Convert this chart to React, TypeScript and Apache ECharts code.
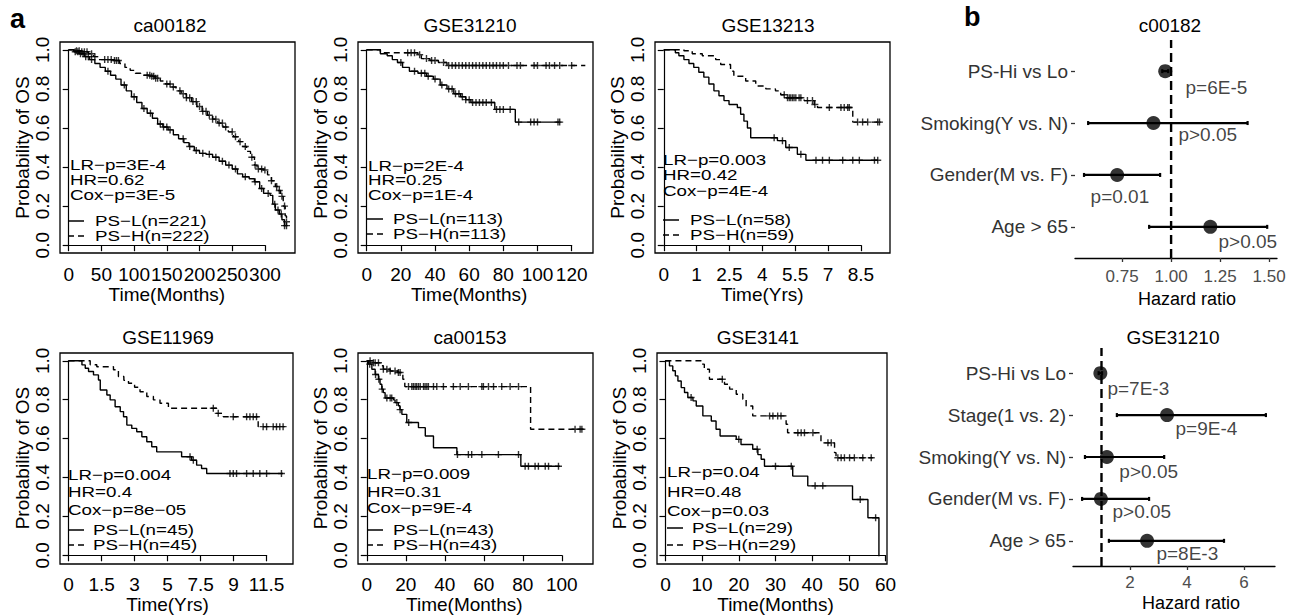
import React, { useEffect, useRef } from 'react';
import * as echarts from 'echarts';

// ================= DATA =================
// Kaplan-Meier curves: [time, survival] (step drops), censoring times
const ca00182_PSL = [[0,1],[8,0.99],[16,0.98],[24,0.965],[32,0.95],[40,0.93],[48,0.91],[56,0.89],[64,0.87],[72,0.85],[80,0.82],[88,0.79],[96,0.76],[104,0.73],[112,0.70],[120,0.675],[128,0.65],[136,0.62],[144,0.605],[152,0.59],[160,0.565],[168,0.545],[176,0.525],[184,0.505],[192,0.485],[200,0.47],[210,0.465],[220,0.45],[230,0.43],[240,0.41],[250,0.39],[258,0.365],[266,0.35],[276,0.34],[284,0.325],[292,0.29],[298,0.265],[308,0.255],[312,0.21],[316,0.18],[322,0.16],[326,0.13],[330,0.10],[333,0.10]];
const ca00182_PSH = [[0,1],[10,0.995],[20,0.99],[30,0.98],[38,0.965],[45,0.95],[70,0.945],[78,0.93],[86,0.91],[94,0.895],[102,0.88],[110,0.87],[125,0.865],[132,0.855],[140,0.84],[148,0.825],[156,0.81],[164,0.79],[172,0.775],[180,0.755],[188,0.735],[196,0.71],[204,0.685],[212,0.665],[220,0.645],[228,0.625],[236,0.605],[244,0.58],[252,0.555],[260,0.53],[266,0.505],[272,0.48],[278,0.45],[284,0.41],[288,0.39],[298,0.385],[304,0.36],[310,0.33],[316,0.30],[320,0.28],[324,0.25],[328,0.20],[331,0.15],[333,0.12],[334,0.12]];
const ca00182_PSL_cens = [10,14,18,22,26,30,35,60,85,100,115,125,140,145,150,155,175,185,195,205,215,225,235,245,255,270,285,295,305,315,320,325,330,333];
const ca00182_PSH_cens = [12,16,20,24,28,35,40,55,60,65,70,73,76,120,124,127,130,133,136,150,155,160,170,175,180,185,190,195,200,205,210,215,220,225,230,235,240,250,255,262,270,280,285,290,295,300,310,318,322,326,330,333];

const GSE31210_PSL = [[0,1],[8,0.98],[12,0.97],[15,0.95],[18,0.935],[21,0.91],[25,0.89],[30,0.88],[35,0.865],[39,0.85],[43,0.82],[47,0.80],[51,0.775],[55,0.76],[58,0.745],[61,0.73],[75,0.695],[87,0.63],[113,0.63]];
const GSE31210_PSH = [[0,1],[8,0.985],[30,0.975],[32,0.955],[37,0.945],[42,0.935],[47,0.92],[128,0.92]];
const GSE31210_PSL_cens = [20,28,32,34,36,40,44,48,50,52,54,56,58,60,62,64,66,68,70,73,76,78,80,84,89,96,98,100,112,113];
const GSE31210_PSH_cens = [24,26,28,31,35,38,40,45,48,50,52,54,56,58,60,62,64,66,68,70,72,74,76,78,80,83,88,90,98,100,105,107,110,113,120];

const GSE13213_PSL = [[0,1],[0.53,0.985],[0.69,0.97],[0.92,0.95],[1.15,0.93],[1.37,0.91],[1.6,0.885],[1.83,0.86],[2.06,0.825],[2.29,0.79],[2.52,0.765],[2.75,0.74],[2.98,0.72],[3.36,0.705],[3.51,0.67],[3.66,0.635],[3.82,0.60],[3.97,0.55],[5.19,0.535],[5.57,0.50],[6.1,0.465],[6.49,0.435],[9.77,0.435]];
const GSE13213_PSH = [[0,1],[0.92,0.995],[1.3,0.98],[1.76,0.97],[2.37,0.95],[2.6,0.925],[3.05,0.89],[3.2,0.865],[3.74,0.84],[4.2,0.815],[4.66,0.80],[5.1,0.79],[5.34,0.77],[5.57,0.755],[6.41,0.74],[6.87,0.72],[7.02,0.705],[8.63,0.63],[9.85,0.63]];
const GSE13213_PSL_cens = [5.04,5.42,5.73,6.26,6.95,7.25,7.56,8.17,8.63,8.93,9.62,9.77];
const GSE13213_PSH_cens = [5.5,5.65,5.73,5.8,5.88,5.95,6.03,6.18,6.26,6.56,6.79,6.9,7.56,8.09,8.24,8.4,8.47,8.85,9.08,9.31,9.77,9.85];

const GSE11969_PSL = [[0,1],[0.81,0.979],[1.01,0.962],[1.21,0.945],[1.51,0.928],[1.81,0.902],[1.92,0.851],[2.32,0.825],[2.52,0.80],[2.82,0.765],[3.13,0.74],[3.33,0.714],[3.53,0.671],[3.83,0.654],[4.13,0.637],[4.44,0.611],[4.74,0.586],[5.04,0.56],[5.34,0.534],[6.85,0.509],[7.46,0.491],[7.76,0.466],[8.06,0.449],[8.37,0.423],[13.0,0.423]];
const GSE11969_PSH = [[0,1],[1.31,0.98],[1.71,0.97],[2.72,0.954],[3.02,0.92],[3.35,0.9],[3.63,0.885],[4.0,0.865],[4.33,0.842],[4.74,0.817],[5.14,0.80],[5.54,0.783],[6.05,0.757],[8.97,0.731],[9.38,0.714],[11.49,0.663],[13.1,0.663]];
const GSE11969_PSL_cens = [7.36,7.56,9.78,9.98,10.18,10.79,11.19,11.59,12.0,12.9];
const GSE11969_PSH_cens = [8.77,9.07,9.98,10.79,10.99,11.19,11.39,11.79,12.0,12.4,12.6,12.8,13.0];

const ca00153_PSL = [[0,1],[0.85,0.983],[2.6,0.957],[4.3,0.93],[6.0,0.906],[6.8,0.88],[7.7,0.855],[8.5,0.837],[9.4,0.81],[13.7,0.80],[14.5,0.786],[16.2,0.77],[17.0,0.75],[18.0,0.726],[20.5,0.684],[26.5,0.658],[30.0,0.615],[34.2,0.555],[46.2,0.52],[79.0,0.46],[99,0.46]];
const ca00153_PSH = [[0,1],[3.4,0.99],[6.8,0.975],[8.5,0.957],[12,0.948],[16,0.94],[18.5,0.906],[19.5,0.868],[84,0.65],[111,0.65]];
const ca00153_PSL_cens = [1.5,4.5,6.2,7.9,10.3,12.0,12.8,15.4,17.1,21.5,46.5,52.1,53.8,59.0,67.5,77.8,81.2,82.9,86.3,88.0,91.5,93.2,98.3];
const ca00153_PSH_cens = [1.7,3.4,4.3,6.0,8.5,10.3,12.0,14.5,16.2,17.1,21.4,23.1,23.9,24.8,25.6,26.5,27.4,29.1,29.9,30.8,31.6,34.2,35.9,39.3,44.4,47.9,52.1,59.0,59.8,62.4,65.0,69.2,73.5,77.8,106.8,109.4,110.3];

const GSE3141_PSL = [[0,1],[1.1,0.974],[2.0,0.949],[2.7,0.923],[3.4,0.897],[4.3,0.863],[5.2,0.838],[6.1,0.812],[7.5,0.795],[8.4,0.769],[10.2,0.718],[12.5,0.692],[13.8,0.65],[14.9,0.615],[19.3,0.598],[20.6,0.572],[23.8,0.547],[25.2,0.52],[26.1,0.496],[27.0,0.46],[34.7,0.41],[38.8,0.36],[51.0,0.29],[55.2,0.197],[58.2,0.0]];
const GSE3141_PSH = [[0,1],[9.7,0.983],[10.6,0.957],[12,0.906],[16.1,0.88],[17.5,0.855],[19.3,0.829],[21.1,0.803],[22,0.769],[23.8,0.718],[32.9,0.675],[33.3,0.632],[42.4,0.58],[46.1,0.53],[46.5,0.504],[56.5,0.504]];
const GSE3141_PSL_cens = [7.0,20.0,25.0,30.0,34.3,40.8,42.9,53.1,57.3];
const GSE3141_PSH_cens = [15.5,28.4,29.3,30.6,31.5,36.1,37.0,37.9,40.2,44.3,45.2,47.0,47.9,48.8,50.2,51.5,53.8,56.1];

// tick labels
const ca00182_ticks = ['0','50','100','150','200','250','300'];
const GSE31210_ticks = ['0','20','40','60','80','100','120'];
const GSE13213_ticks = ['0','1','2.5','4','5.5','7','8.5'];
const GSE11969_ticks = ['0','1.5','3','5','7.5','9','11.5'];
const ca00153_ticks = ['0','20','40','60','80','100'];
const GSE3141_ticks = ['0','10','20','30','40','50','60'];
const yTicks = ['0.0','0.2','0.4','0.6','0.8','1.0'];

// statistics text
const ca00182_stats = ['LR−p=3E-4','HR=0.62','Cox−p=3E-5'];
const GSE31210_stats = ['LR−p=2E-4','HR=0.25','Cox−p=1E-4'];
const GSE13213_stats = ['LR−p=0.003','HR=0.42','Cox−p=4E-4'];
const GSE11969_stats = ['LR−p=0.004','HR=0.4','Cox−p=8e−05'];
const ca00153_stats = ['LR−p=0.009','HR=0.31','Cox−p=9E-4'];
const GSE3141_stats = ['LR−p=0.04','HR=0.48','Cox−p=0.03'];

const ca00182_legend = ['PS−L(n=221)','PS−H(n=222)'];
const GSE31210_legend = ['PS−L(n=113)','PS−H(n=113)'];
const GSE13213_legend = ['PS−L(n=58)','PS−H(n=59)'];
const GSE11969_legend = ['PS−L(n=45)','PS−H(n=45)'];
const ca00153_legend = ['PS−L(n=43)','PS−H(n=43)'];
const GSE3141_legend = ['PS−L(n=29)','PS−H(n=29)'];

// forest plots
const forestRef = 1;
const c00182_factors = ['PS-Hi vs Lo','Smoking(Y vs. N)','Gender(M vs. F)','Age > 65'];
const c00182_hr = [0.97, 0.91, 0.725, 1.20];
const c00182_lo = [0.955, 0.577, 0.556, 0.888];
const c00182_hi = [0.985, 1.39, 0.944, 1.49];
const c00182_p = ['p=6E-5','p>0.05','p=0.01','p>0.05'];

const GSE31210f_factors = ['PS-Hi vs Lo','Stage(1 vs. 2)','Smoking(Y vs. N)','Gender(M vs. F)','Age > 65'];
const GSE31210f_hr = [0.96, 3.3, 1.19, 0.98, 2.6];
const GSE31210f_lo = [0.9, 1.54, 0.42, 0.32, 1.26];
const GSE31210f_hi = [1.02, 6.77, 3.2, 2.67, 5.3];
const GSE31210f_p = ['p=7E-3','p=9E-4','p>0.05','p>0.05','p=8E-3'];
const forest1_ticks = ['0.75','1.00','1.25','1.50'];
const forest2_ticks = ['2','4','6'];

// ================= LAYOUT =================
const FONT = '"Liberation Sans", Arial, Helvetica, sans-serif';
const PLUS = 'path://M4,0H6V4H10V6H6V10H4V6H0V4H4Z';

const kmPanels = [
  { title: 'ca00182', xName: 'Time(Months)', ticks: ca00182_ticks, L: ca00182_PSL, H: ca00182_PSH, Lc: ca00182_PSL_cens, Hc: ca00182_PSH_cens, stats: ca00182_stats, legend: ca00182_legend },
  { title: 'GSE31210', xName: 'Time(Months)', ticks: GSE31210_ticks, L: GSE31210_PSL, H: GSE31210_PSH, Lc: GSE31210_PSL_cens, Hc: GSE31210_PSH_cens, stats: GSE31210_stats, legend: GSE31210_legend },
  { title: 'GSE13213', xName: 'Time(Yrs)', ticks: GSE13213_ticks, L: GSE13213_PSL, H: GSE13213_PSH, Lc: GSE13213_PSL_cens, Hc: GSE13213_PSH_cens, stats: GSE13213_stats, legend: GSE13213_legend },
  { title: 'GSE11969', xName: 'Time(Yrs)', ticks: GSE11969_ticks, L: GSE11969_PSL, H: GSE11969_PSH, Lc: GSE11969_PSL_cens, Hc: GSE11969_PSH_cens, stats: GSE11969_stats, legend: GSE11969_legend },
  { title: 'ca00153', xName: 'Time(Months)', ticks: ca00153_ticks, L: ca00153_PSL, H: ca00153_PSH, Lc: ca00153_PSL_cens, Hc: ca00153_PSH_cens, stats: ca00153_stats, legend: ca00153_legend },
  { title: 'GSE3141', xName: 'Time(Months)', ticks: GSE3141_ticks, L: GSE3141_PSL, H: GSE3141_PSH, Lc: GSE3141_PSL_cens, Hc: GSE3141_PSH_cens, stats: GSE3141_stats, legend: GSE3141_legend },
];

const kmLayout = [
  { left: 60, top: 42, width: 235, height: 211, xmin: -13.3, xmax: 346, interval: 50, titleX: 170, titleY: 25, sx: 70, sy: [165, 180, 195], lx: [68, 84], ltx: 95, ly: [221, 236] },
  { left: 358, top: 42, width: 235, height: 211, xmin: -5.1, xmax: 132.5, interval: 20, titleX: 470, titleY: 25, sx: 368, sy: [166, 180, 195], lx: [367, 383], ltx: 393, ly: [219, 234] },
  { left: 655, top: 42, width: 235, height: 211, xmin: -0.4, xmax: 10.33, interval: 1.5, titleX: 768, titleY: 25, sx: 663, sy: [160, 175, 191], lx: [663, 679], ltx: 690, ly: [220, 235] },
  { left: 60, top: 353, width: 233, height: 211, xmin: -0.52, xmax: 13.6, interval: 2, titleX: 168, titleY: 337, sx: 68, sy: [475, 492, 510], lx: [68, 84], ltx: 93, ly: [530, 545] },
  { left: 358, top: 353, width: 235, height: 211, xmin: -4.5, xmax: 116, interval: 20, titleX: 470, titleY: 337, sx: 367, sy: [474, 492, 508], lx: [367, 383], ltx: 393, ly: [530, 545] },
  { left: 657, top: 353, width: 230, height: 211, xmin: -2.3, xmax: 60.4, interval: 10, titleX: 758, titleY: 337, sx: 667, sy: [472, 492, 511], lx: [667, 683], ltx: 692, ly: [528, 545] },
];

const forests = [
  { title: 'c00182', factors: c00182_factors, hr: c00182_hr, lo: c00182_lo, hi: c00182_hi, p: c00182_p, ticks: forest1_ticks },
  { title: 'GSE31210', factors: GSE31210f_factors, hr: GSE31210f_hr, lo: GSE31210f_lo, hi: GSE31210f_hi, p: GSE31210f_p, ticks: forest2_ticks },
];
const forestLayout = [
  { left: 1075, top: 40, width: 202, height: 218, xmin: 0.51, xmax: 1.54, tickMin: 0.75, tickMax: 1.5, interval: 0.25,
    titleX: 1170, titleY: 25, hrX: 1187, hrY: 299, tickMargin: 10, labelX: [1.071, 1.035, 0.587, 1.239], labelDy: [16, 11, 22, 15] },
  { left: 1073, top: 348, width: 202, height: 218, xmin: 0.0, xmax: 7.09, tickMin: 2, tickMax: 6, interval: 2,
    titleX: 1173, titleY: 337, hrX: 1191, hrY: 603, tickMargin: 8, labelX: [1.19, 3.58, 1.61, 1.37, 2.91], labelDy: [15, 13, 14, 13, 13] },
];

function survAt(curve: number[][], t: number): number {
  let s = curve[0][1];
  for (const [ti, si] of curve) {
    if (ti <= t) s = si; else break;
  }
  return s;
}

function txt(x: number, y: number, text: string, size: number, align = 'left', extra: any = {}) {
  return {
    type: 'text', x, y, silent: true, scaleX: extra.scaleX || 1, scaleY: 1,
    style: {
      text, fill: extra.fill || '#000', fontSize: size, fontFamily: FONT, fontWeight: extra.weight || 'normal',
      textAlign: align, align, textVerticalAlign: 'middle', verticalAlign: 'middle',
    },
  };
}

function buildOption() {
  const grid: any[] = [], xAxis: any[] = [], yAxis: any[] = [], series: any[] = [], graphic: any[] = [];

  kmPanels.forEach((p, i) => {
    const L = kmLayout[i];
    const sx = L.width / (L.xmax - L.xmin);
    const sy = L.height / 1.08;
    const tickMax = L.interval * (p.ticks.length - 1);
    const gA = grid.length;
    grid.push({ left: L.left, top: L.top, width: L.width, height: L.height, show: true, borderColor: '#000', borderWidth: 1.3, backgroundColor: 'transparent' });
    xAxis.push({ gridIndex: gA, type: 'value', min: L.xmin, max: L.xmax, show: false });
    yAxis.push({ gridIndex: gA, type: 'value', min: -0.04, max: 1.04, show: false });

    const gB = grid.length;
    const bLeft = L.left + (0 - L.xmin) * sx;
    const bTop = L.top + 0.04 * sy;
    grid.push({ left: bLeft, top: bTop, width: tickMax * sx, height: sy });
    const ticks = p.ticks;
    const interval = L.interval;
    xAxis.push({
      gridIndex: gB, type: 'value', min: 0, max: tickMax, interval,
      offset: (L.top + L.height) - (bTop + sy),
      axisLine: { show: true, lineStyle: { color: '#000', width: 1.2 } },
      axisTick: { show: true, length: 6, lineStyle: { color: '#000', width: 1.2 } },
      axisLabel: { fontSize: 19, color: '#000', fontFamily: FONT, margin: 12, formatter: (v: number) => ticks[Math.round(v / interval)] ?? '' },
      splitLine: { show: false },
      name: p.xName, nameLocation: 'middle', nameGap: 30,
      nameTextStyle: { fontSize: 19, color: '#000', fontFamily: FONT },
    });
    yAxis.push({
      gridIndex: gB, type: 'value', min: 0, max: 1, interval: 0.2,
      offset: bLeft - L.left,
      axisLine: { show: true, lineStyle: { color: '#000', width: 1.2 } },
      axisTick: { show: true, length: 6, lineStyle: { color: '#000', width: 1.2 } },
      axisLabel: { fontSize: 19, color: '#000', fontFamily: FONT, rotate: 90, margin: 8, formatter: (v: number) => yTicks[Math.round(v / 0.2)] ?? '' },
      splitLine: { show: false },
      name: 'Probability of OS', nameLocation: 'middle', nameGap: 19,
      nameTextStyle: { fontSize: 19, color: '#000', fontFamily: FONT },
    });

    series.push({ type: 'line', xAxisIndex: gA, yAxisIndex: gA, data: p.L, step: 'end', symbol: 'none', silent: true, lineStyle: { color: '#000', width: 1.4 } });
    series.push({ type: 'line', xAxisIndex: gA, yAxisIndex: gA, data: p.H, step: 'end', symbol: 'none', silent: true, lineStyle: { color: '#000', width: 1.4, type: [6, 4] } });
    series.push({ type: 'scatter', xAxisIndex: gA, yAxisIndex: gA, data: p.Lc.map((t) => [t, survAt(p.L, t)]), symbol: PLUS, symbolSize: 7, silent: true, itemStyle: { color: '#000' } });
    series.push({ type: 'scatter', xAxisIndex: gA, yAxisIndex: gA, data: p.Hc.map((t) => [t, survAt(p.H, t)]), symbol: PLUS, symbolSize: 7, silent: true, itemStyle: { color: '#000' } });

    graphic.push(txt(L.titleX, L.titleY, p.title, 19, 'center'));
    p.stats.forEach((s, k) => graphic.push(txt(L.sx, L.sy[k], s, 15, 'left', { scaleX: 1.25 })));
    graphic.push({ type: 'line', silent: true, shape: { x1: L.lx[0], y1: L.ly[0], x2: L.lx[1], y2: L.ly[0] }, style: { stroke: '#000', lineWidth: 1.5 } });
    graphic.push({ type: 'line', silent: true, shape: { x1: L.lx[0], y1: L.ly[1], x2: L.lx[1], y2: L.ly[1] }, style: { stroke: '#000', lineWidth: 1.5, lineDash: [6, 4] } });
    graphic.push(txt(L.ltx, L.ly[0], p.legend[0], 15, 'left', { scaleX: 1.25 }));
    graphic.push(txt(L.ltx, L.ly[1], p.legend[1], 15, 'left', { scaleX: 1.25 }));
  });

  forests.forEach((f, k) => {
    const FL = forestLayout[k];
    const n = f.factors.length;
    const unit = FL.height / (n + 0.2);
    const sx = FL.width / (FL.xmax - FL.xmin);

    // panel grid (axis line + reference line)
    const gA = grid.length;
    grid.push({ left: FL.left, top: FL.top, width: FL.width, height: FL.height });
    xAxis.push({ gridIndex: gA, type: 'value', min: FL.xmin, max: FL.xmax,
      axisLine: { show: true, lineStyle: { color: '#000', width: 1.3 } }, axisTick: { show: false }, axisLabel: { show: false }, splitLine: { show: false } });
    yAxis.push({ gridIndex: gA, type: 'value', min: 0, max: 1, show: false });
    series.push({ type: 'line', xAxisIndex: gA, yAxisIndex: gA, data: [[forestRef, 0], [forestRef, 1]], symbol: 'none', silent: true, lineStyle: { color: '#000', width: 2.4, type: [9, 5] } });

    // category grid
    const gC = grid.length;
    grid.push({ left: FL.left, top: FL.top + 0.1 * unit, width: FL.width, height: n * unit });
    xAxis.push({ gridIndex: gC, type: 'value', min: FL.xmin, max: FL.xmax, show: false });
    yAxis.push({ gridIndex: gC, type: 'category', data: f.factors, inverse: true,
      axisLine: { show: false },
      axisTick: { show: true, alignWithLabel: true, length: 4, lineStyle: { color: '#333', width: 1.3 } },
      axisLabel: { fontSize: 19, color: '#333', fontFamily: FONT, margin: 7 } });
    series.push({
      type: 'custom', xAxisIndex: gC, yAxisIndex: gC, silent: true,
      data: f.lo.map((lo, j) => [lo, j, f.hi[j]]),
      encode: { x: [0, 2], y: 1 },
      renderItem: (params: any, api: any) => {
        const a = api.coord([api.value(0), api.value(1)]);
        const b = api.coord([api.value(2), api.value(1)]);
        const st = { stroke: '#000', lineWidth: 2.2 };
        return {
          type: 'group', children: [
            { type: 'line', shape: { x1: a[0], y1: a[1], x2: b[0], y2: b[1] }, style: st },
            { type: 'line', shape: { x1: a[0], y1: a[1] - 2, x2: a[0], y2: a[1] + 2 }, style: st },
            { type: 'line', shape: { x1: b[0], y1: b[1] - 2, x2: b[0], y2: b[1] + 2 }, style: st },
          ],
        };
      },
    });
    series.push({ type: 'scatter', xAxisIndex: gC, yAxisIndex: gC, silent: true, data: f.hr.map((h, j) => [h, j]), symbol: 'circle', symbolSize: 14, itemStyle: { color: '#000' } });
    series.push({
      type: 'scatter', xAxisIndex: gC, yAxisIndex: gC, silent: true, symbolSize: 1, itemStyle: { color: 'rgba(0,0,0,0)' },
      data: f.p.map((t, j) => ({ value: [FL.labelX[j], j], name: t, label: { offset: [0, FL.labelDy[j]] } })),
      label: { show: true, position: 'right', distance: 0, formatter: '{b}', fontSize: 19, color: '#111', fontFamily: FONT },
    });

    // tick grid
    const gB = grid.length;
    const ticks = f.ticks;
    grid.push({ left: FL.left + (FL.tickMin - FL.xmin) * sx, top: FL.top, width: (FL.tickMax - FL.tickMin) * sx, height: FL.height });
    xAxis.push({ gridIndex: gB, type: 'value', min: FL.tickMin, max: FL.tickMax, interval: FL.interval,
      axisLine: { show: false },
      axisTick: { show: true, length: 4, lineStyle: { color: '#333', width: 1.3 } },
      axisLabel: { fontSize: 17, color: '#4d4d4d', fontFamily: FONT, margin: FL.tickMargin, formatter: (v: number) => ticks[Math.round((v - FL.tickMin) / FL.interval)] ?? '' },
      splitLine: { show: false } });
    yAxis.push({ gridIndex: gB, type: 'value', show: false });

    graphic.push(txt(FL.titleX, FL.titleY, f.title, 19, 'center'));
    graphic.push(txt(FL.hrX, FL.hrY, 'Hazard ratio', 18, 'center'));
  });

  graphic.push(txt(10, 19, 'a', 27, 'left', { weight: 'bold' }));
  graphic.push(txt(964, 17, 'b', 27, 'left', { weight: 'bold' }));

  return {
    animation: false,
    backgroundColor: '#fff',
    textStyle: { fontFamily: FONT },
    grid, xAxis, yAxis, series, graphic,
  };
}

export default function App() {
  const ref = useRef<HTMLDivElement>(null);
  useEffect(() => {
    document.body.style.margin = '0';
    if (!ref.current) return;
    const chart = echarts.init(ref.current, undefined, { renderer: 'svg' });
    chart.setOption(buildOption() as any);
    return () => chart.dispose();
  }, []);
  return <div ref={ref} style={{ width: 1298, height: 615 }} />;
}
